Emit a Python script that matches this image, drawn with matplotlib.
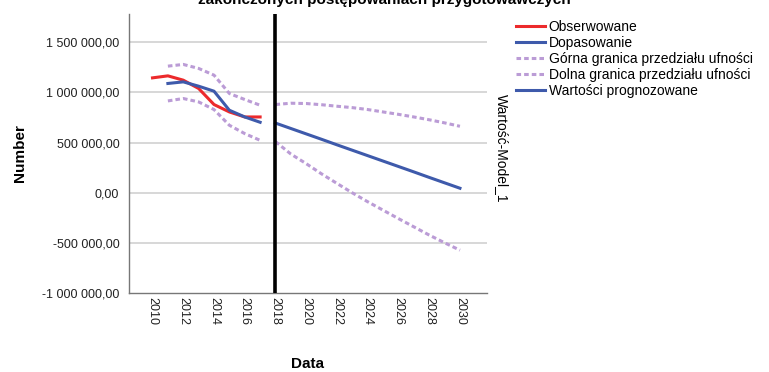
import numpy as np
import matplotlib
matplotlib.use("Agg")
import matplotlib.pyplot as plt
from matplotlib.ticker import FuncFormatter

plt.rcParams["font.family"] = ["Liberation Sans", "DejaVu Sans"]

# observed series
obs_years = [2010, 2011, 2012, 2013, 2014, 2015, 2016, 2017]
observed = [1146000, 1166000, 1123000, 1040000, 880000, 806000, 756000, 756000]

# model fit with confidence bounds
fit_years = [2011, 2012, 2013, 2014, 2015, 2016, 2017]
fitted = [1090000, 1106000, 1063000, 1013000, 823000, 756000, 703000]
fit_upper = [1263000, 1280000, 1240000, 1173000, 990000, 930000, 873000]
fit_lower = [916000, 940000, 906000, 830000, 673000, 590000, 523000]

# forecast with confidence bounds
fc_years = list(range(2018, 2031))
forecast = [695000, 641000, 587000, 533000, 478000, 424000, 370000,
            316000, 262000, 208000, 153000, 99000, 45000]
fc_upper = [880000, 893000, 890000, 878000, 863000, 849000, 830000,
            806000, 782000, 756000, 728000, 697000, 663000]
fc_lower = [510000, 386000, 290000, 188000, 93000, -1000, -90000,
            -174000, -258000, -340000, -422000, -499000, -573000]

split_year = 2018
x_ticks = list(range(2010, 2031, 2))
y_ticks = [-1000000, -500000, 0, 500000, 1000000, 1500000]

RED = "#ec2a2c"
BLUE = "#3e5aab"
PURPLE = "#bb9cd6"
dots = (0, (1.5, 1.0))

fig = plt.figure(figsize=(7.69, 3.72), dpi=100)
ax = fig.add_axes([129 / 769, 1 - 293 / 372, (487 - 129) / 769, (293 - 14) / 372])

for y in y_ticks[1:]:
    ax.axhline(y, color="#d4d4d4", lw=1.3, zorder=0)

ax.plot(obs_years, observed, color=RED, lw=2.2, label="Obserwowane", zorder=3)
ax.plot(fit_years, fitted, color=BLUE, lw=2.2, label="Dopasowanie", zorder=4)
ax.plot(fit_years, fit_upper, color=PURPLE, lw=2.2, ls=dots,
        label="Górna granica przedziału ufności", zorder=2)
ax.plot(fit_years, fit_lower, color=PURPLE, lw=2.2, ls=dots,
        label="Dolna granica przedziału ufności", zorder=2)
ax.plot(fc_years, fc_upper, color=PURPLE, lw=2.2, ls=dots, zorder=2)
ax.plot(fc_years, fc_lower, color=PURPLE, lw=2.2, ls=dots, zorder=2)
ax.plot(fc_years, forecast, color=BLUE, lw=2.2, label="Wartości prognozowane", zorder=4)

ax.axvline(split_year, color="black", lw=2.6, zorder=5)

ax.set_xlim(2008.47, 2031.76)
ax.set_ylim(-1000000, 1783000)
ax.set_xticks(x_ticks)
ax.set_yticks(y_ticks)
ax.yaxis.set_major_formatter(FuncFormatter(
    lambda v, p: f"{v:,.2f}".replace(",", " ").replace(".", ",")))
ax.tick_params(axis="both", length=0, labelsize=9, colors="#222222", pad=7)
ax.tick_params(axis="x", labelrotation=-90, pad=3)
for lab in ax.get_xticklabels():
    lab.set_va("top")
    lab.set_ha("center")

for s in ["top", "right"]:
    ax.spines[s].set_visible(False)
for s in ["left", "bottom"]:
    ax.spines[s].set_color("#777777")
    ax.spines[s].set_linewidth(1.0)

ax.set_ylabel("Number", fontsize=11, fontweight="bold", labelpad=11)
fig.text(308 / 769, 1 - 364 / 372, "Data", fontsize=11, fontweight="bold",
         ha="center", va="center")
fig.text(502 / 769, 1 - 148 / 372, "Wartość-Model_1", fontsize=10,
         rotation=-90, ha="center", va="center")
fig.text(0.5, 1 - 4 / 372, "zakończonych postępowaniach przygotowawczych",
         fontsize=11, fontweight="bold", ha="center", va="baseline")

fig.legend(loc="upper left", bbox_to_anchor=(516 / 769, 1 - 20 / 372),
           frameon=False, fontsize=10, handlelength=2.1, handletextpad=0.25,
           labelspacing=0.15, borderpad=0, borderaxespad=0)

fig.savefig("out.png", dpi=100)
